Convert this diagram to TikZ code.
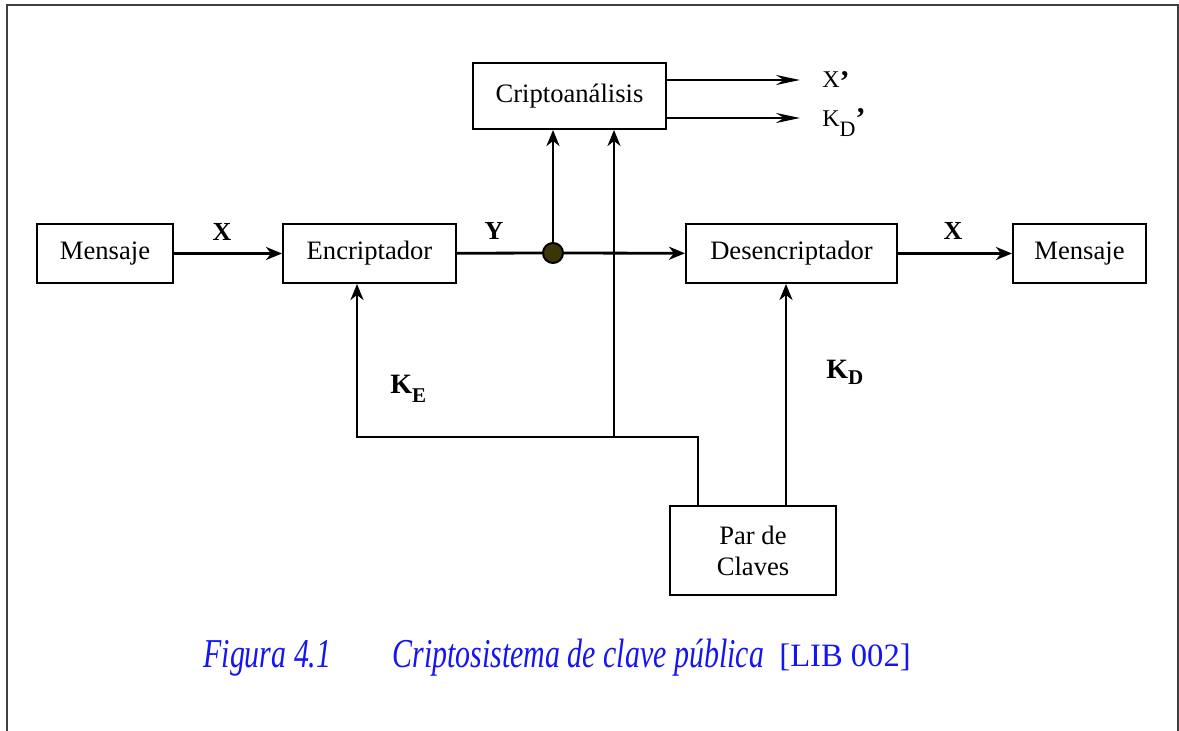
\documentclass[tikz,border=0pt]{standalone}
\usepackage{fontspec}
\setmainfont{Liberation Serif}
\newfontfamily\capfont[FakeStretch=0.73]{Liberation Serif}
\usetikzlibrary{arrows.meta}
\definecolor{tapolive}{RGB}{58,54,6}
\definecolor{capblue}{RGB}{20,20,245}

\begin{document}
\begin{tikzpicture}[x=0.5pt,y=-0.5pt,
		blk/.style={draw,line width=1pt,inner sep=0pt,align=center,font=\fontsize{13.3}{15.5}\selectfont},
		con/.style={line width=1.4pt},
		arr/.style={con,-{Stealth[length=8pt,width=6.5pt,inset=2.5pt]}},
		oarr/.style={con,-{Stealth[length=12pt,width=5pt,inset=4pt]}},
		lbl/.style={inner sep=0pt,font=\fontsize{13}{13}\selectfont\bfseries},
		klbl/.style={inner sep=0pt,anchor=base west,font=\fontsize{14}{14}\selectfont\bfseries},
		olbl/.style={inner sep=0pt,anchor=base west,font=\fontsize{12}{12}\selectfont},
		captxt/.style={inner sep=0pt,anchor=base west,text=capblue}
	]
	\useasboundingbox (0,0) rectangle (1179,731);
	\draw[line width=1pt,black!75] (7,731) -- (7,5) -- (1178,5) -- (1178,731);

	\node[blk,minimum width=68pt,minimum height=29.5pt] (msgIn) at (105,253.5) {Mensaje};
	\node[blk,minimum width=86.5pt,minimum height=29.5pt] (enc) at (369.5,253.5) {Encriptador};
	\node[blk,minimum width=105.5pt,minimum height=29.5pt] (dec) at (791.5,253.5) {Desencriptador};
	\node[blk,minimum width=66.5pt,minimum height=29.5pt] (msgOut) at (1079.5,253.5) {Mensaje};
	\node[blk,minimum width=96.5pt,minimum height=33pt] (cripto) at (569.5,96) {Criptoanálisis};
	\node[blk,minimum width=83pt,minimum height=44.5pt] (par) at (753,550.5) {Par de\\Claves};
	\node[circle,draw,line width=1pt,fill=tapolive,minimum size=10pt,inner sep=0pt] (tap) at (553,253) {};

	\coordinate (keyE) at (357,437);
	\coordinate (keyA) at (614,437);
	\coordinate (keyD) at (786,0);
	\coordinate (outX) at (800,80);
	\coordinate (outK) at (800,118);

	\draw[arr] (msgIn) -- (enc);
	\draw[con] (enc) -- (tap);
	\draw[arr] (tap) -- (dec);
	\draw[arr] (tap) -- (tap |- cripto.south);
	\draw[arr] (dec) -- (msgOut);
	\draw[arr] ([xshift=14.5pt]par.north west) |- (keyE) -- (keyE |- enc.south);
	\draw[arr] (keyA) -- (keyA |- cripto.south);
	\draw[arr] (par.north -| keyD) -- (keyD |- dec.south);
	\draw[oarr] (cripto.east |- outX) -- (outX);
	\draw[oarr] (cripto.east |- outK) -- (outK);

	\node[lbl] (lblX1) at (222,232) {X};
	\node[lbl] (lblY) at (494,231) {Y};
	\node[lbl] (lblX2) at (953,231) {X};
	\node[klbl] (lblKE) at (390,394) {K\raisebox{-4.5pt}{\fontsize{10.5}{10.5}\selectfont E}};
	\node[klbl] (lblKD) at (826,379) {K\raisebox{-3pt}{\fontsize{10.5}{10.5}\selectfont D}};
	\node[olbl] (lblXp) at (822,88) {X\raisebox{-2pt}{\fontsize{15}{15}\selectfont\bfseries\textquoteright}};
	\node[olbl] (lblKp) at (822,127) {K\raisebox{-5pt}{\fontsize{11}{11}\selectfont D}\raisebox{-1pt}{\fontsize{15}{15}\selectfont\bfseries\textquoteright}};

	\node[captxt,font=\capfont\itshape\fontsize{20.5}{24}\selectfont] (capNum) at (203,668) {Figura 4.1};
	\node[captxt,font=\capfont\itshape\fontsize{20.5}{24}\selectfont] (capTitle) at (392,668) {Criptosistema de clave pública};
	\node[captxt,font=\fontsize{16.3}{18}\selectfont] (capRef) at (779,667) {[LIB 002]};
\end{tikzpicture}
\end{document}
